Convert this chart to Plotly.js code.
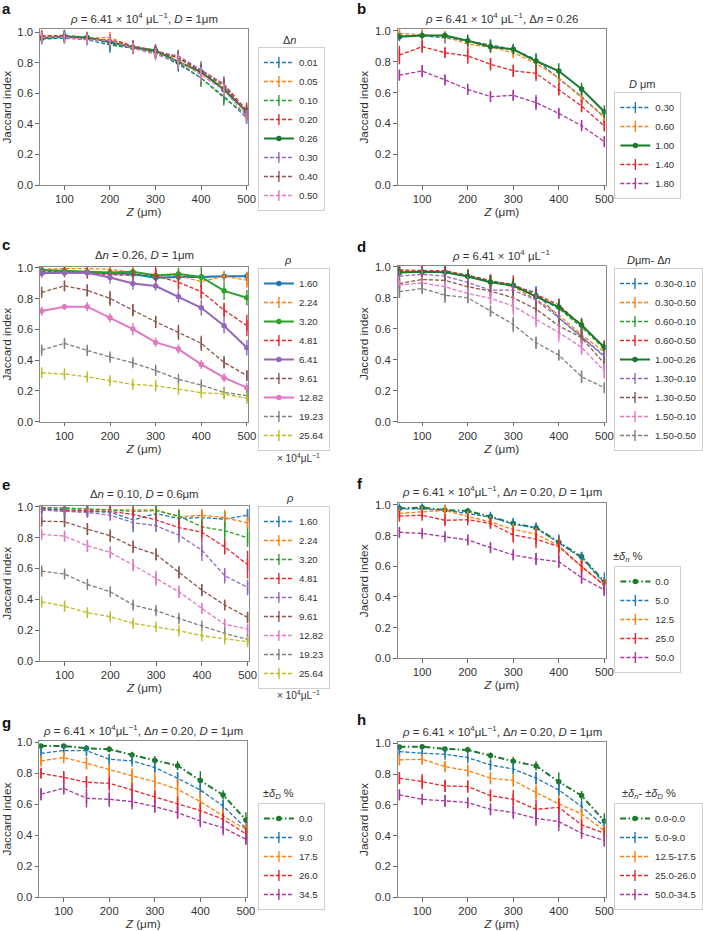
<!DOCTYPE html>
<html>
<head>
<meta charset="utf-8">
<script src="https://cdn.plot.ly/plotly-3.0.1.min.js"></script>
<style>html,body{margin:0;padding:0;background:#fff;}#chart{width:703px;height:931px;}</style>
</head>
<body>
<div id="chart"></div>
<script>
// ---------------- DATA ----------------
const Z = [50, 100, 150, 200, 250, 300, 350, 400, 450, 500];
const xTicks = [100, 200, 300, 400, 500];
const yTicks = [0, 0.2, 0.4, 0.6, 0.8, 1.0];

// Panel a: Δn
const aLabels = ['0.01', '0.05', '0.10', '0.20', '0.26', '0.30', '0.40', '0.50'];
const aMean = [
  [0.955, 0.960, 0.950, 0.915, 0.895, 0.865, 0.790, 0.700, 0.580, 0.440],
  [0.975, 0.975, 0.960, 0.965, 0.905, 0.870, 0.830, 0.730, 0.640, 0.470],
  [0.970, 0.980, 0.965, 0.925, 0.895, 0.865, 0.800, 0.700, 0.570, 0.460],
  [0.975, 0.970, 0.955, 0.950, 0.910, 0.880, 0.830, 0.750, 0.660, 0.490],
  [0.960, 0.970, 0.965, 0.935, 0.900, 0.880, 0.805, 0.740, 0.625, 0.480],
  [0.960, 0.975, 0.955, 0.940, 0.905, 0.870, 0.845, 0.750, 0.660, 0.470],
  [0.965, 0.970, 0.955, 0.945, 0.905, 0.870, 0.835, 0.740, 0.650, 0.470],
  [0.965, 0.965, 0.950, 0.945, 0.895, 0.855, 0.810, 0.720, 0.620, 0.450]
];
const aErr = [
  [0.02, 0.03, 0.03, 0.05, 0.03, 0.03, 0.05, 0.05, 0.04, 0.04],
  [0.02, 0.02, 0.02, 0.02, 0.03, 0.03, 0.03, 0.04, 0.04, 0.04],
  [0.03, 0.02, 0.02, 0.03, 0.04, 0.04, 0.04, 0.06, 0.05, 0.04],
  [0.02, 0.02, 0.02, 0.03, 0.03, 0.04, 0.04, 0.05, 0.05, 0.05],
  [0.03, 0.02, 0.02, 0.03, 0.03, 0.03, 0.04, 0.05, 0.04, 0.04],
  [0.02, 0.02, 0.04, 0.03, 0.04, 0.04, 0.04, 0.06, 0.05, 0.04],
  [0.02, 0.02, 0.03, 0.03, 0.04, 0.03, 0.04, 0.05, 0.04, 0.04],
  [0.02, 0.02, 0.03, 0.03, 0.03, 0.04, 0.05, 0.05, 0.04, 0.04]
];

// Panel b: D (µm)
const bLabels = ['0.30', '0.60', '1.00', '1.40', '1.80'];
const bMean = [
  [0.970, 0.970, 0.955, 0.935, 0.910, 0.880, 0.815, 0.690, 0.575, 0.440],
  [0.985, 0.975, 0.965, 0.915, 0.895, 0.860, 0.790, 0.695, 0.570, 0.440],
  [0.963, 0.970, 0.970, 0.937, 0.898, 0.881, 0.805, 0.740, 0.623, 0.476],
  [0.844, 0.898, 0.859, 0.838, 0.784, 0.742, 0.725, 0.621, 0.513, 0.383],
  [0.714, 0.740, 0.682, 0.621, 0.574, 0.582, 0.535, 0.465, 0.385, 0.281]
];
const bErr = [
  [0.02, 0.02, 0.02, 0.03, 0.03, 0.03, 0.04, 0.04, 0.04, 0.04],
  [0.02, 0.02, 0.02, 0.03, 0.03, 0.03, 0.04, 0.04, 0.04, 0.04],
  [0.02, 0.02, 0.02, 0.04, 0.04, 0.03, 0.04, 0.05, 0.04, 0.04],
  [0.06, 0.04, 0.03, 0.05, 0.04, 0.04, 0.05, 0.04, 0.04, 0.03],
  [0.03, 0.04, 0.03, 0.03, 0.03, 0.03, 0.05, 0.03, 0.03, 0.03]
];

// Panel c: ρ (×10^4 µL^-1), Δn = 0.26, D = 1 µm
const cLabels = ['1.60', '2.24', '3.20', '4.81', '6.41', '9.61', '12.82', '19.23', '25.64'];
const cMean = [
  [0.965, 0.970, 0.970, 0.965, 0.960, 0.935, 0.940, 0.940, 0.945, 0.945],
  [0.990, 0.995, 0.995, 0.990, 0.970, 0.955, 0.950, 0.910, 0.945, 0.920],
  [0.985, 0.980, 0.975, 0.970, 0.975, 0.950, 0.960, 0.940, 0.850, 0.805],
  [0.975, 0.975, 0.965, 0.955, 0.950, 0.950, 0.905, 0.845, 0.725, 0.625],
  [0.968, 0.968, 0.968, 0.937, 0.898, 0.881, 0.812, 0.740, 0.623, 0.480],
  [0.840, 0.883, 0.853, 0.801, 0.725, 0.649, 0.580, 0.509, 0.385, 0.299],
  [0.719, 0.747, 0.747, 0.675, 0.602, 0.515, 0.472, 0.372, 0.286, 0.221],
  [0.465, 0.509, 0.463, 0.420, 0.383, 0.333, 0.275, 0.238, 0.190, 0.169],
  [0.318, 0.309, 0.292, 0.266, 0.242, 0.234, 0.212, 0.188, 0.180, 0.152]
];
const cErr = [
  [0.02, 0.02, 0.02, 0.02, 0.02, 0.02, 0.02, 0.02, 0.03, 0.03],
  [0.01, 0.01, 0.01, 0.02, 0.03, 0.04, 0.03, 0.03, 0.03, 0.05],
  [0.02, 0.02, 0.02, 0.02, 0.02, 0.03, 0.04, 0.07, 0.06, 0.05],
  [0.02, 0.02, 0.02, 0.02, 0.03, 0.06, 0.05, 0.05, 0.05, 0.07],
  [0.03, 0.02, 0.02, 0.04, 0.04, 0.03, 0.04, 0.05, 0.05, 0.05],
  [0.02, 0.03, 0.04, 0.05, 0.04, 0.04, 0.05, 0.05, 0.04, 0.03],
  [0.03, 0.02, 0.03, 0.03, 0.04, 0.03, 0.03, 0.03, 0.03, 0.03],
  [0.02, 0.02, 0.02, 0.02, 0.02, 0.02, 0.015, 0.015, 0.015, 0.015],
  [0.015, 0.015, 0.015, 0.015, 0.015, 0.015, 0.015, 0.015, 0.015, 0.015]
];

// Panel d: D µm - Δn
const dLabels = ['0.30-0.10', '0.30-0.50', '0.60-0.10', '0.60-0.50', '1.00-0.26', '1.30-0.10', '1.30-0.50', '1.50-0.10', '1.50-0.50'];
const dMean = [
  [0.970, 0.965, 0.965, 0.945, 0.910, 0.870, 0.835, 0.670, 0.550, 0.425],
  [0.975, 0.970, 0.965, 0.940, 0.905, 0.870, 0.790, 0.690, 0.560, 0.450],
  [0.970, 0.970, 0.965, 0.945, 0.905, 0.875, 0.810, 0.730, 0.610, 0.470],
  [0.980, 0.975, 0.975, 0.945, 0.910, 0.885, 0.820, 0.755, 0.620, 0.485],
  [0.963, 0.968, 0.965, 0.937, 0.900, 0.880, 0.808, 0.740, 0.625, 0.480],
  [0.940, 0.951, 0.940, 0.899, 0.849, 0.849, 0.785, 0.671, 0.548, 0.419],
  [0.892, 0.918, 0.912, 0.871, 0.843, 0.800, 0.727, 0.619, 0.542, 0.376],
  [0.882, 0.896, 0.871, 0.828, 0.796, 0.746, 0.660, 0.576, 0.480, 0.327],
  [0.839, 0.860, 0.817, 0.800, 0.714, 0.628, 0.510, 0.430, 0.290, 0.219]
];
const dErr = [
  [0.02, 0.02, 0.02, 0.03, 0.04, 0.04, 0.04, 0.05, 0.04, 0.04],
  [0.02, 0.02, 0.02, 0.03, 0.03, 0.04, 0.04, 0.05, 0.04, 0.04],
  [0.03, 0.02, 0.02, 0.04, 0.04, 0.05, 0.04, 0.05, 0.05, 0.05],
  [0.02, 0.03, 0.03, 0.03, 0.04, 0.06, 0.04, 0.04, 0.05, 0.04],
  [0.03, 0.02, 0.02, 0.04, 0.04, 0.03, 0.04, 0.05, 0.04, 0.04],
  [0.03, 0.03, 0.03, 0.03, 0.03, 0.04, 0.04, 0.05, 0.05, 0.04],
  [0.03, 0.03, 0.03, 0.03, 0.04, 0.05, 0.05, 0.05, 0.05, 0.04],
  [0.02, 0.02, 0.03, 0.03, 0.04, 0.06, 0.05, 0.06, 0.05, 0.05],
  [0.04, 0.03, 0.05, 0.03, 0.03, 0.05, 0.04, 0.03, 0.04, 0.03]
];

// Panel e: ρ (×10^4 µL^-1), Δn = 0.10, D = 0.6 µm
const eLabels = ['1.60', '2.24', '3.20', '4.81', '6.41', '9.61', '12.82', '19.23', '25.64'];
const eMean = [
  [0.990, 0.975, 0.970, 0.965, 0.915, 0.955, 0.925, 0.930, 0.920, 0.945],
  [0.995, 0.995, 0.985, 0.980, 0.980, 0.980, 0.935, 0.945, 0.930, 0.895],
  [0.995, 0.990, 0.985, 0.980, 0.970, 0.975, 0.940, 0.870, 0.845, 0.800],
  [0.985, 0.980, 0.975, 0.970, 0.950, 0.915, 0.865, 0.835, 0.740, 0.625],
  [0.978, 0.972, 0.963, 0.946, 0.896, 0.877, 0.816, 0.719, 0.553, 0.477],
  [0.907, 0.903, 0.855, 0.812, 0.741, 0.691, 0.575, 0.460, 0.363, 0.283],
  [0.821, 0.810, 0.747, 0.704, 0.622, 0.536, 0.449, 0.341, 0.238, 0.207],
  [0.583, 0.564, 0.497, 0.449, 0.363, 0.326, 0.276, 0.227, 0.179, 0.140],
  [0.384, 0.356, 0.313, 0.287, 0.244, 0.222, 0.197, 0.164, 0.143, 0.125]
];
const eErr = [
  [0.02, 0.05, 0.03, 0.03, 0.08, 0.03, 0.03, 0.04, 0.05, 0.04],
  [0.01, 0.01, 0.02, 0.02, 0.03, 0.03, 0.05, 0.04, 0.05, 0.04],
  [0.01, 0.01, 0.02, 0.02, 0.02, 0.03, 0.04, 0.05, 0.06, 0.06],
  [0.01, 0.02, 0.02, 0.02, 0.03, 0.04, 0.06, 0.06, 0.05, 0.09],
  [0.02, 0.02, 0.03, 0.03, 0.04, 0.04, 0.05, 0.07, 0.05, 0.05],
  [0.02, 0.03, 0.04, 0.04, 0.04, 0.04, 0.04, 0.04, 0.03, 0.03],
  [0.02, 0.03, 0.04, 0.04, 0.04, 0.05, 0.04, 0.03, 0.03, 0.02],
  [0.02, 0.02, 0.015, 0.02, 0.025, 0.02, 0.02, 0.015, 0.015, 0.01],
  [0.015, 0.015, 0.015, 0.015, 0.015, 0.015, 0.015, 0.015, 0.015, 0.015]
];

// Panel f: ±δn %
const fLabels = ['0.0', '5.0', '12.5', '25.0', '50.0'];
const fMean = [
  [0.978, 0.983, 0.967, 0.961, 0.924, 0.880, 0.852, 0.757, 0.663, 0.500],
  [0.975, 0.975, 0.965, 0.945, 0.920, 0.875, 0.850, 0.750, 0.655, 0.490],
  [0.945, 0.955, 0.965, 0.925, 0.890, 0.840, 0.810, 0.735, 0.600, 0.480],
  [0.928, 0.933, 0.900, 0.904, 0.880, 0.804, 0.778, 0.728, 0.598, 0.474],
  [0.822, 0.815, 0.793, 0.772, 0.722, 0.674, 0.648, 0.630, 0.526, 0.446]
];
const fErr = [
  [0.02, 0.02, 0.02, 0.02, 0.02, 0.03, 0.03, 0.05, 0.03, 0.03],
  [0.02, 0.02, 0.02, 0.02, 0.03, 0.04, 0.03, 0.05, 0.04, 0.07],
  [0.02, 0.02, 0.03, 0.03, 0.03, 0.04, 0.04, 0.05, 0.04, 0.04],
  [0.02, 0.02, 0.03, 0.02, 0.03, 0.05, 0.06, 0.06, 0.04, 0.04],
  [0.03, 0.02, 0.02, 0.03, 0.03, 0.03, 0.04, 0.04, 0.04, 0.04]
];

// Panel g: ±δD %
const gLabels = ['0.0', '9.0', '17.5', '26.0', '34.5'];
const gMean = [
  [0.976, 0.976, 0.961, 0.955, 0.918, 0.882, 0.849, 0.753, 0.660, 0.499],
  [0.929, 0.946, 0.946, 0.890, 0.880, 0.837, 0.768, 0.692, 0.589, 0.445],
  [0.880, 0.901, 0.865, 0.822, 0.783, 0.746, 0.697, 0.617, 0.525, 0.439],
  [0.800, 0.774, 0.742, 0.735, 0.692, 0.649, 0.602, 0.559, 0.503, 0.409],
  [0.665, 0.703, 0.639, 0.632, 0.617, 0.585, 0.546, 0.492, 0.449, 0.374]
];
const gErr = [
  [0.01, 0.01, 0.01, 0.02, 0.02, 0.03, 0.03, 0.06, 0.03, 0.05],
  [0.03, 0.03, 0.03, 0.03, 0.02, 0.03, 0.04, 0.05, 0.04, 0.04],
  [0.03, 0.02, 0.04, 0.04, 0.05, 0.06, 0.07, 0.06, 0.05, 0.04],
  [0.03, 0.04, 0.04, 0.05, 0.05, 0.04, 0.05, 0.05, 0.04, 0.04],
  [0.04, 0.04, 0.06, 0.05, 0.05, 0.04, 0.04, 0.04, 0.05, 0.03]
];

// Panel h: ±δn - ±δD %
const hLabels = ['0.0-0.0', '5.0-9.0', '12.5-17.5', '25.0-26.0', '50.0-34.5'];
const hMean = [
  [0.976, 0.978, 0.963, 0.957, 0.920, 0.883, 0.853, 0.750, 0.660, 0.495],
  [0.946, 0.935, 0.929, 0.907, 0.859, 0.833, 0.773, 0.697, 0.589, 0.459],
  [0.892, 0.896, 0.848, 0.823, 0.773, 0.758, 0.680, 0.606, 0.541, 0.433],
  [0.773, 0.751, 0.723, 0.719, 0.660, 0.636, 0.571, 0.584, 0.470, 0.416],
  [0.665, 0.636, 0.626, 0.615, 0.571, 0.550, 0.513, 0.491, 0.416, 0.368]
];
const hErr = [
  [0.01, 0.01, 0.01, 0.02, 0.02, 0.03, 0.03, 0.06, 0.03, 0.05],
  [0.02, 0.02, 0.02, 0.02, 0.03, 0.03, 0.04, 0.04, 0.04, 0.04],
  [0.03, 0.03, 0.03, 0.04, 0.04, 0.04, 0.05, 0.06, 0.04, 0.04],
  [0.04, 0.05, 0.04, 0.04, 0.04, 0.06, 0.06, 0.06, 0.03, 0.03],
  [0.03, 0.03, 0.04, 0.03, 0.04, 0.04, 0.05, 0.06, 0.03, 0.04]
];

// ---------------- STYLE ----------------
const COL = {
  blue: '#1f77b4', orange: '#ff7f0e', green: '#2ca02c', red: '#e8262b',
  purple: '#9467bd', brown: '#8c564b', pink: '#e377c2', gray: '#7f7f7f',
  olive: '#bcbd22', dkgreen: '#1b7a2e', magenta: '#a8369b'
};
const FONT = 'Liberation Sans, Arial, Helvetica, sans-serif';
const W = 703, H = 931;

// style kinds: 'd' dashed no marker, 's' solid w/ marker, 'dd' dash-dot w/ marker
const panels = [
  { labels: aLabels, mean: aMean, err: aErr,
    colors: [COL.blue, COL.orange, COL.green, COL.red, COL.dkgreen, COL.purple, COL.brown, COL.pink],
    kinds: ['d', 'd', 'd', 'd', 's', 'd', 'd', 'd'] },
  { labels: bLabels, mean: bMean, err: bErr,
    colors: [COL.blue, COL.orange, COL.dkgreen, COL.red, COL.magenta],
    kinds: ['d', 'd', 's', 'd', 'd'] },
  { labels: cLabels, mean: cMean, err: cErr,
    colors: [COL.blue, COL.orange, COL.green, COL.red, COL.purple, COL.brown, COL.pink, COL.gray, COL.olive],
    kinds: ['s', 'd', 's', 'd', 's', 'd', 's', 'd', 'd'] },
  { labels: dLabels, mean: dMean, err: dErr,
    colors: [COL.blue, COL.orange, COL.green, COL.red, COL.dkgreen, COL.purple, COL.brown, COL.pink, COL.gray],
    kinds: ['d', 'd', 'd', 'd', 's', 'd', 'd', 'd', 'd'] },
  { labels: eLabels, mean: eMean, err: eErr,
    colors: [COL.blue, COL.orange, COL.green, COL.red, COL.purple, COL.brown, COL.pink, COL.gray, COL.olive],
    kinds: ['d', 'd', 'd', 'd', 'd', 'd', 'd', 'd', 'd'] },
  { labels: fLabels, mean: fMean, err: fErr,
    colors: [COL.dkgreen, COL.blue, COL.orange, COL.red, COL.magenta],
    kinds: ['dd', 'd', 'd', 'd', 'd'] },
  { labels: gLabels, mean: gMean, err: gErr,
    colors: [COL.dkgreen, COL.blue, COL.orange, COL.red, COL.magenta],
    kinds: ['dd', 'd', 'd', 'd', 'd'] },
  { labels: hLabels, mean: hMean, err: hErr,
    colors: [COL.dkgreen, COL.blue, COL.orange, COL.red, COL.magenta],
    kinds: ['dd', 'd', 'd', 'd', 'd'] }
];

// geometry in px
const geo = [
  { x: [40, 249],     y: [29.3, 185],   ytop: 1.018, title: 18.5, lab: [0, 9],
    leg: [259, 47],   legTitle: [291, 40] },
  { x: [399.3, 608.3], y: [29.3, 185],  ytop: 1.011, title: 17.5, lab: [357, 8.5],
    leg: [617, 92],   legTitle: [645, 84] },
  { x: [40, 249.3],   y: [266.7, 421.7], ytop: 1.007, title: 254.5, lab: [0, 245],
    leg: [259, 268], legTitle: [289, 260], note: [300, 458] },
  { x: [399.3, 608.3], y: [265.7, 421.7], ytop: 1.007, title: 254.5, lab: [357, 246.5],
    leg: [617, 268], legTitle: [652, 260] },
  { x: [40, 250],     y: [505.7, 661],   ytop: 1.007, title: 494.5, lab: [0, 484],
    leg: [259, 506], legTitle: [291, 498], note: [300, 695] },
  { x: [399.3, 608.3], y: [503.3, 658.3], ytop: 1.011, title: 491.5, lab: [357, 483],
    leg: [617, 566],  legTitle: [631, 557] },
  { x: [39.3, 248.3], y: [740.7, 897.3], ytop: 1.01, title: 729.5, lab: [0, 722],
    leg: [259, 803], legTitle: [280, 794] },
  { x: [399.3, 608.3], y: [741.7, 897.3], ytop: 1.01, title: 730.5, lab: [357, 719],
    leg: [617, 803], legTitle: [652, 794] }
];

const panelLetters = ['a', 'b', 'c', 'd', 'e', 'f', 'g', 'h'];
const panelTitles = [
  '<i>ρ</i> = 6.41 × 10<sup>4</sup> μL<sup>−1</sup>, <i>D</i> = 1μm',
  '<i>ρ</i> = 6.41 × 10<sup>4</sup> μL<sup>−1</sup>, Δ<i>n</i> = 0.26',
  'Δ<i>n</i> = 0.26, <i>D</i> = 1μm',
  '<i>ρ</i> = 6.41 × 10<sup>4</sup> μL<sup>−1</sup>',
  'Δ<i>n</i> = 0.10, <i>D</i> = 0.6μm',
  '<i>ρ</i> = 6.41 × 10<sup>4</sup>μL<sup>−1</sup>, Δ<i>n</i> = 0.20, <i>D</i> = 1μm',
  '<i>ρ</i> = 6.41 × 10<sup>4</sup>μL<sup>−1</sup>, Δ<i>n</i> = 0.20, <i>D</i> = 1μm',
  '<i>ρ</i> = 6.41 × 10<sup>4</sup>μL<sup>−1</sup>, Δ<i>n</i> = 0.20, <i>D</i> = 1μm'
];
const legendTitles = [
  'Δ<i>n</i>', '<i>D</i> μm', '<i>ρ</i>', '<i>D</i>μm- Δ<i>n</i>', '<i>ρ</i>',
  '±<i>δ<sub>n</sub></i> %', '±<i>δ<sub>D</sub></i> %', '±<i>δ<sub>n</sub></i>- ±<i>δ<sub>D</sub></i> %'
];
const noteText = '× 10<sup>4</sup>μL<sup>−1</sup>';

// ---------------- BUILD ----------------
const px = v => v / W;
const py = v => 1 - v / H;
const traces = [];
const layout = {
  width: W, height: H,
  margin: { l: 0, r: 0, t: 0, b: 0 },
  paper_bgcolor: '#fff', plot_bgcolor: '#fff',
  font: { family: FONT, size: 11, color: '#333' },
  showlegend: true,
  annotations: []
};

panels.forEach((p, i) => {
  const n = i + 1;
  const sfx = n === 1 ? '' : String(n);
  const xa = 'x' + sfx, ya = 'y' + sfx, lg = 'legend' + sfx;
  const g = geo[i];

  p.labels.forEach((lab, k) => {
    const c = p.colors[k], kind = p.kinds[k];
    const t = {
      type: 'scatter', mode: 'lines+markers',
      x: Z, y: p.mean[k], name: lab,
      xaxis: xa, yaxis: ya, legend: lg,
      error_y: { type: 'data', array: p.err[k], visible: true, thickness: 1.4, width: 0, color: c },
      hoverinfo: 'skip'
    };
    if (kind === 'd') {
      t.line = { color: c, width: 1.3, dash: '4px,2px' };
      t.marker = { symbol: 'line-ns-open', size: 8, color: c, line: { color: c, width: 1.4 } };
    } else if (kind === 's') {
      t.line = { color: c, width: 2 };
      t.marker = { symbol: 'circle', size: 5.5, color: c };
    } else {
      t.line = { color: c, width: 2, dash: '6px,2.5px,1.5px,2.5px' };
      t.marker = { symbol: 'circle', size: 5.5, color: c };
    }
    traces.push(t);
  });

  layout['xaxis' + sfx] = {
    domain: [px(g.x[0]), px(g.x[1])], anchor: ya,
    range: [46, 503], tickvals: xTicks, ticktext: xTicks.map(String),
    ticks: 'outside', ticklen: 3.5, tickwidth: 1, tickcolor: '#666',
    showline: true, linecolor: '#8a8a8a', linewidth: 1, mirror: true,
    showgrid: false, zeroline: false,
    tickfont: { size: 11.3, color: '#333' },
    title: { text: '<i>Z</i> (μm)', font: { size: 11.8, color: '#333' }, standoff: 3 }
  };
  layout['yaxis' + sfx] = {
    domain: [py(g.y[1]), py(g.y[0])], anchor: xa,
    range: [0, g.ytop], tickvals: yTicks, tickformat: '.1f',
    ticks: 'outside', ticklen: 3.5, tickwidth: 1, tickcolor: '#666',
    showline: true, linecolor: '#8a8a8a', linewidth: 1, mirror: true,
    showgrid: false, zeroline: false,
    tickfont: { size: 11.3, color: '#333' },
    title: { text: 'Jaccard index', font: { size: 11.8, color: '#333' }, standoff: 3 }
  };
  layout[lg] = {
    x: px(g.leg[0]), y: py(g.leg[1]), xanchor: 'left', yanchor: 'top',
    xref: 'paper', yref: 'paper',
    bgcolor: '#fff', bordercolor: '#cfcfcf', borderwidth: 1,
    font: { family: FONT, size: 9.7, color: '#333' },
    itemwidth: 30, traceorder: 'normal'
  };

  // panel title
  layout.annotations.push({
    xref: 'paper', yref: 'paper', x: px((g.x[0] + g.x[1]) / 2), y: py(g.title),
    xanchor: 'center', yanchor: 'middle', showarrow: false,
    text: panelTitles[i], font: { size: 11.4, color: '#333' }
  });
  // panel letter
  layout.annotations.push({
    xref: 'paper', yref: 'paper', x: px(g.lab[0]), y: py(g.lab[1]),
    xanchor: 'left', yanchor: 'middle', showarrow: false,
    text: '<b>' + panelLetters[i] + '</b>', font: { size: 15, color: '#111' }
  });
  // legend title
  layout.annotations.push({
    xref: 'paper', yref: 'paper', x: px(g.legTitle[0]), y: py(g.legTitle[1]),
    xanchor: 'center', yanchor: 'middle', showarrow: false,
    text: legendTitles[i], font: { size: 11, color: '#333' }
  });
  if (g.note) {
    layout.annotations.push({
      xref: 'paper', yref: 'paper', x: px(g.note[0]), y: py(g.note[1]),
      xanchor: 'center', yanchor: 'middle', showarrow: false,
      text: noteText, font: { size: 10, color: '#333' }
    });
  }
});

Plotly.newPlot('chart', traces, layout, { displayModeBar: false, staticPlot: true });
</script>
</body>
</html>
